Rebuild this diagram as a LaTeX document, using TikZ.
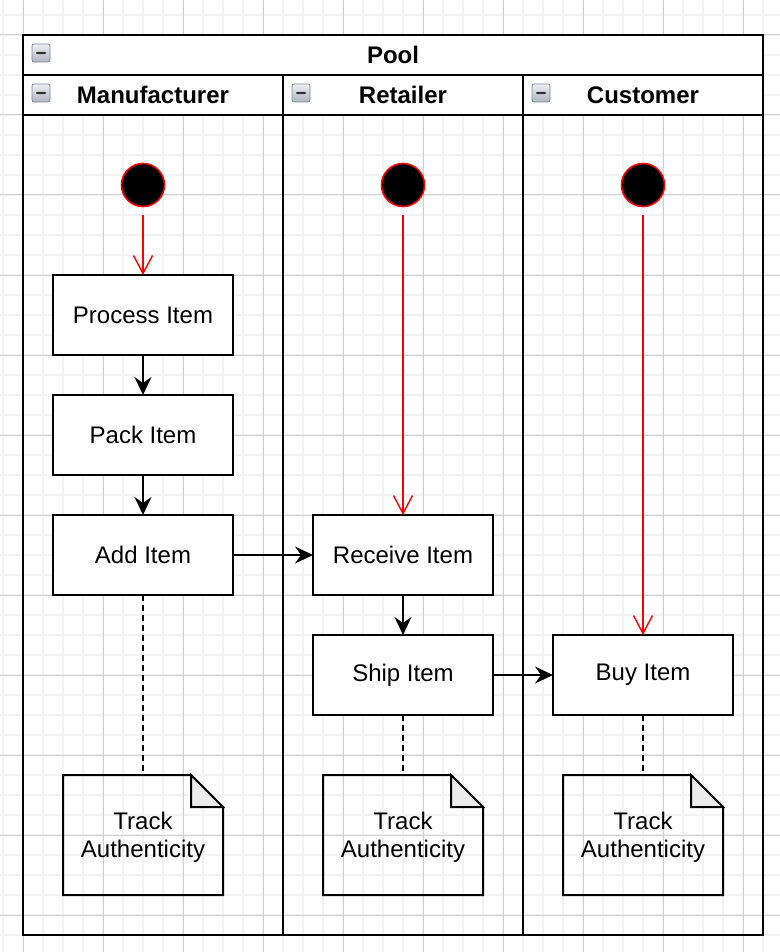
\documentclass[tikz,border=0pt]{standalone}
\usepackage{fontspec}
\setmainfont{Liberation Sans}
\usepackage{tikz}
\usetikzlibrary{arrows.meta, positioning}
\definecolor{minorgrid}{HTML}{F2F2F2}
\definecolor{majorgrid}{HTML}{D0D0D0}
\definecolor{startred}{HTML}{FF0000}
\definecolor{iconlight}{HTML}{EEF0F3}
\definecolor{icondark}{HTML}{AEB4BF}
\definecolor{iconedge}{HTML}{7D8594}
\definecolor{foldgray}{HTML}{EBEBEB}

\begin{document}
\begin{tikzpicture}[
    x=0.5pt, y=-0.5pt,
    every node/.style={font=\fontsize{12}{14}\selectfont},
    header/.style={draw, line width=1pt, fill=white, minimum height=20pt, font=\fontsize{12}{14}\selectfont\bfseries},
    minusicon/.style={draw=iconedge, rounded corners=1pt, top color=iconlight, bottom color=icondark, minimum size=9pt, inner sep=0pt,
      path picture={\fill[black!80] ([xshift=2pt,yshift=-0.6pt]path picture bounding box.west) rectangle ([xshift=-2pt,yshift=0.6pt]path picture bounding box.east);}},
    start/.style={circle, draw=startred, fill=black, line width=0.8pt, minimum size=21.5pt, inner sep=0pt},
    activity/.style={draw, line width=1pt, fill=white, minimum width=90pt, minimum height=40pt, align=center, outer sep=0pt},
    notebox/.style={minimum width=80pt, minimum height=60pt, align=center, outer sep=0pt, text depth=0pt},
    flow/.style={-{Stealth[length=9pt, width=8.5pt, inset=3pt]}, line width=1pt},
    initflow/.style={-{Straight Barb[length=9pt, width=9.5pt]}, line width=0.7pt, draw=startred, shorten <=4pt},
    trace/.style={line width=1pt, dash pattern=on 3pt off 2pt},
  ]
  \useasboundingbox (0,0) rectangle (780,952);

  % grid
  \foreach \gx in {3,23,...,783} \draw[minorgrid, line width=0.8pt] (\gx,0) -- (\gx,952);
  \foreach \gy in {15,35,...,955} \draw[minorgrid, line width=0.8pt] (0,\gy) -- (780,\gy);
  \foreach \gx in {23,103,...,783} \draw[majorgrid, line width=0.5pt] (\gx,0) -- (\gx,952);
  \foreach \gy in {35,115,...,955} \draw[majorgrid, line width=0.5pt] (0,\gy) -- (780,\gy);

  % pool and lanes
  \node[header, minimum width=370pt] (pool) at (393,55) {Pool};
  \node[header, minimum width=130pt] (laneM) at (153,95) {Manufacturer};
  \node[header, minimum width=120pt] (laneR) at (403,95) {Retailer};
  \node[header, minimum width=120pt] (laneC) at (643,95) {Customer};
  \draw[line width=1pt] (23,115) rectangle (283,935);
  \draw[line width=1pt] (283,115) rectangle (523,935);
  \draw[line width=1pt] (523,115) rectangle (763,935);

  \node[minusicon] (iconP) at (41,53) {};
  \node[minusicon] (iconM) at (41,93) {};
  \node[minusicon] (iconR) at (301,93) {};
  \node[minusicon] (iconC) at (541,93) {};

  % start states
  \node[start] (startM) at (143,185) {};
  \node[start] (startR) at (403,185) {};
  \node[start] (startC) at (643,185) {};

  % activities
  \node[activity] (process) at (143,315) {Process Item};
  \node[activity, below=20pt of process] (pack) {Pack Item};
  \node[activity, below=20pt of pack] (add) {Add Item};
  \node[activity, right=40pt of add] (receive) {Receive Item};
  \node[activity, below=20pt of receive] (ship) {Ship Item};
  \node[activity, right=30pt of ship] (buy) {Buy Item};

  % notes
  \node[notebox, below=90pt of add] (noteM) {Track\\Authenticity};
  \node[notebox, below=30pt of ship] (noteR) {Track\\Authenticity};
  \node[notebox, below=30pt of buy] (noteC) {Track\\Authenticity};
  \foreach \n in {noteM, noteR, noteC} {
    \draw[line width=1pt] (\n.north west) -- ([xshift=-16pt]\n.north east) -- ([yshift=-16pt]\n.north east) -- (\n.south east) -- (\n.south west) -- cycle;
    \draw[line width=1pt, fill=foldgray] ([xshift=-16pt]\n.north east) -- ([xshift=-16pt, yshift=-16pt]\n.north east) -- ([yshift=-16pt]\n.north east) -- cycle;
  }

  % connectors
  \draw[initflow] (startM) -- (process);
  \draw[initflow] (startR) -- (receive);
  \draw[initflow] (startC) -- (buy);
  \draw[flow] (process) -- (pack);
  \draw[flow] (pack) -- (add);
  \draw[flow] (add) -- (receive);
  \draw[flow] (receive) -- (ship);
  \draw[flow] (ship) -- (buy);
  \draw[trace] (add) -- (noteM);
  \draw[trace] (ship) -- (noteR);
  \draw[trace] (buy) -- (noteC);
\end{tikzpicture}
\end{document}
